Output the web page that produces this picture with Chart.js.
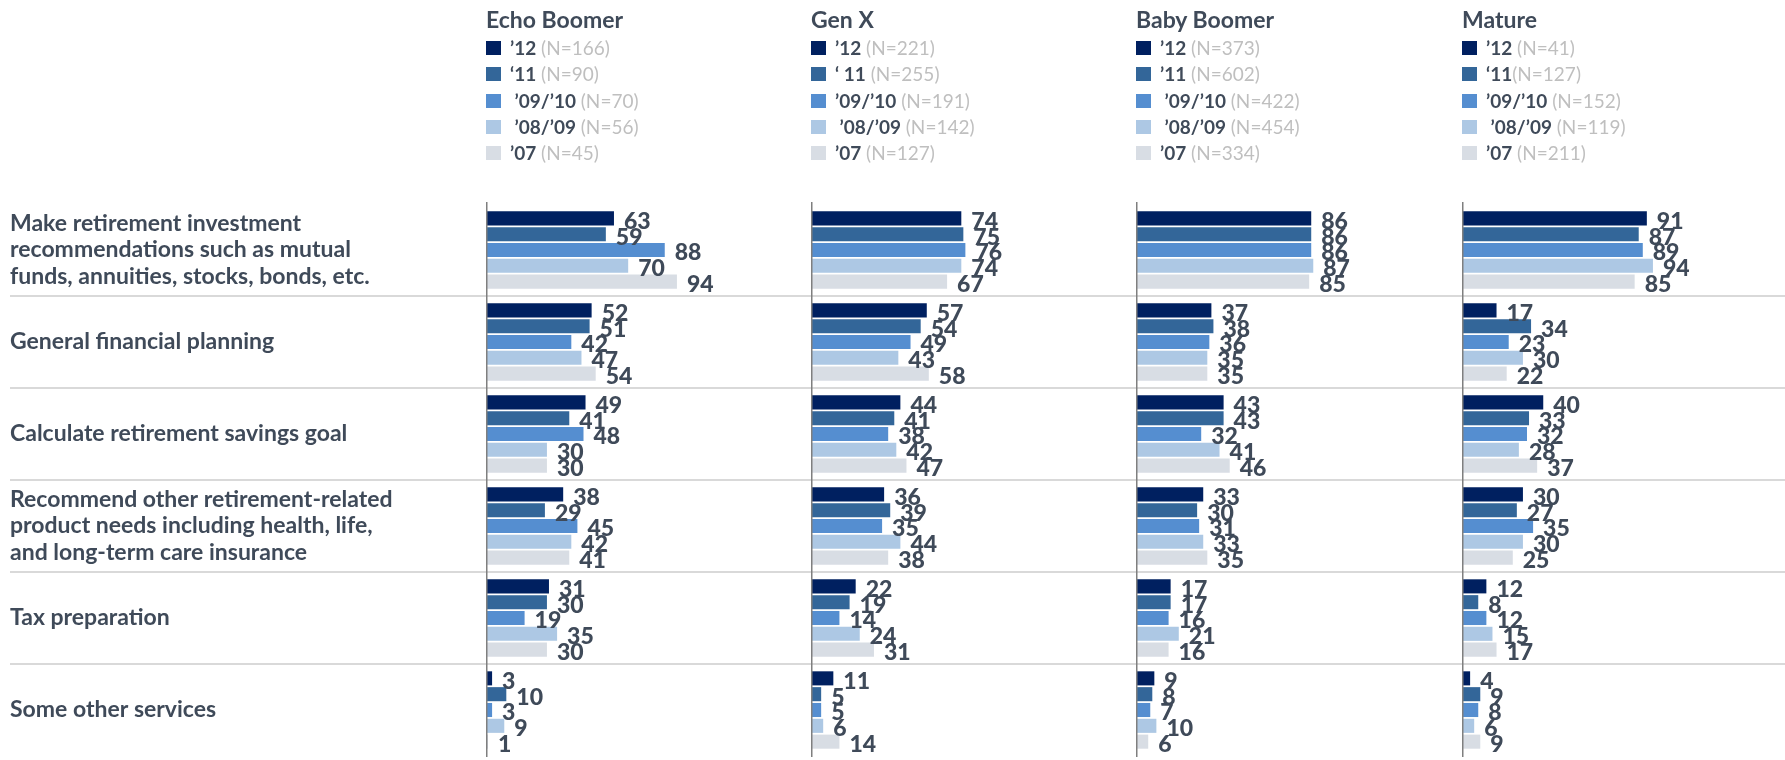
<!DOCTYPE html>
<html>
<head>
<meta charset="utf-8">
<script src="https://cdn.jsdelivr.net/npm/chart.js@4.4.1/dist/chart.umd.min.js"></script>
<style>
  body { margin: 0; width: 1785px; height: 760px; overflow: hidden; background: #fff; position: relative; font-family: Lato, sans-serif; }
  canvas { position: absolute; top: 0; }
  .head { position: absolute; top: 6px; color: #3f4a59; white-space: pre; }
  .head h2 { margin: 0; font: 700 23px/26px Lato; }
  .row { height: 26.3px; line-height: 26.3px; font-size: 19px; display: flex; align-items: center; }
  .row .sw { width: 15px; height: 14px; margin-right: 9px; flex: none; }
  .row b { font-weight: 700; color: #3f4a59; white-space: pre; }
  .row span { color: #bfbfbf; white-space: pre; }
</style>
</head>
<body>
<canvas id="c0" width="811" height="760" style="left:0px"></canvas>
<canvas id="c1" width="325" height="760" style="left:811px"></canvas>
<canvas id="c2" width="326" height="760" style="left:1136px"></canvas>
<canvas id="c3" width="325" height="760" style="left:1462px"></canvas>

<script>
// --- DATA ---
const categories = [
    ['Make retirement investment', 'recommendations such as mutual', 'funds, annuities, stocks, bonds, etc.'],
    'General financial planning',
    'Calculate retirement savings goal',
    ['Recommend other retirement-related', 'product needs including health, life,', 'and long-term care insurance'],
    'Tax preparation',
    'Some other services'
];
const seriesLabels = ['’12', '’11', '’09/’10', '’08/’09', '’07'];
const seriesColors = ['#002060', '#336699', '#558ed0', '#adc8e4', '#d8dde4'];

const panelTitles = ['Echo Boomer', 'Gen X', 'Baby Boomer', 'Mature'];

// legend texts as written in each panel
const echoKeys = ['’12', '‘11', ' ’09/’10', ' ’08/’09', '’07'];
const genxKeys = ['’12', '‘ 11', '’09/’10', ' ’08/’09', '’07'];
const boomerKeys = ['’12', '’11', ' ’09/’10', ' ’08/’09', '’07'];
const matureKeys = ['’12', '‘11', '’09/’10', ' ’08/’09', '’07'];

const echoN = [166, 90, 70, 56, 45];
const genxN = [221, 255, 191, 142, 127];
const boomerN = [373, 602, 422, 454, 334];
const matureN = [41, 127, 152, 119, 211];

// values: one row per series ('12, '11, '09/'10, '08/'09, '07), one column per category
const echoValues = [
    [63, 52, 49, 38, 31, 3],
    [59, 51, 41, 29, 30, 10],
    [88, 42, 48, 45, 19, 3],
    [70, 47, 30, 42, 35, 9],
    [94, 54, 30, 41, 30, 1]
];
const genxValues = [
    [74, 57, 44, 36, 22, 11],
    [75, 54, 41, 39, 19, 5],
    [76, 49, 38, 35, 14, 5],
    [74, 43, 42, 44, 24, 6],
    [67, 58, 47, 38, 31, 14]
];
const boomerValues = [
    [86, 37, 43, 33, 17, 9],
    [86, 38, 43, 30, 17, 8],
    [86, 36, 32, 31, 16, 7],
    [87, 35, 41, 33, 21, 10],
    [85, 35, 46, 35, 16, 6]
];
const matureValues = [
    [91, 17, 40, 30, 12, 4],
    [87, 34, 33, 27, 8, 9],
    [89, 23, 32, 35, 12, 8],
    [94, 30, 28, 30, 15, 6],
    [85, 22, 37, 25, 17, 9]
];

const panelKeys = [echoKeys, genxKeys, boomerKeys, matureKeys];
const panelN = [echoN, genxN, boomerN, matureN];
const panelValues = [echoValues, genxValues, boomerValues, matureValues];
const axisX = [486, 811, 1136, 1462];

const TEXT = '#3f4a59';

// --- HTML LEGENDS ---
panelTitles.forEach((title, p) => {
    const div = document.createElement('div');
    div.className = 'head';
    div.style.left = axisX[p] + 'px';
    let html = `<h2>${title}</h2><div style="margin-top:3px">`;
    panelKeys[p].forEach((k, i) => {
        const gap = (p === 3 && i === 1) ? '' : ' ';
        html += `<div class="row"><div class="sw" style="background:${seriesColors[i]}"></div>` +
                `<b>${k}</b><span>${gap}(N=${panelN[p][i]})</span></div>`;
    });
    div.innerHTML = html + '</div>';
    document.body.appendChild(div);
});

// --- PLUGINS ---
const separators = {
    id: 'separators',
    beforeDatasetsDraw(chart, args, opts) {
        const { ctx } = chart;
        const y = chart.scales.y;
        ctx.save();
        ctx.strokeStyle = '#d9d9d9';
        ctx.lineWidth = 2;
        for (let i = 1; i < categories.length; i++) {
            const py = Math.round((y.getPixelForValue(i - 1) + y.getPixelForValue(i)) / 2);
            ctx.beginPath();
            ctx.moveTo(opts.from || 0, py);
            ctx.lineTo(chart.width, py);
            ctx.stroke();
        }
        ctx.restore();
    },
    afterDatasetsDraw(chart) {
        const { ctx, chartArea } = chart;
        ctx.save();
        ctx.strokeStyle = '#7f7f7f';
        ctx.lineWidth = 1.5;
        ctx.beginPath();
        ctx.moveTo(chartArea.left + 0.75, chartArea.top - 2);
        ctx.lineTo(chartArea.left + 0.75, chartArea.bottom + 1);
        ctx.stroke();
        ctx.restore();
    }
};

const valueLabels = {
    id: 'valueLabels',
    afterDatasetsDraw(chart) {
        const { ctx } = chart;
        ctx.save();
        ctx.font = '900 23px Lato';
        ctx.fillStyle = TEXT;
        ctx.textBaseline = 'middle';
        chart.data.datasets.forEach((ds, d) => {
            chart.getDatasetMeta(d).data.forEach((bar, i) => {
                ctx.fillText(ds.data[i], bar.x + 10, bar.y + 3);
            });
        });
        ctx.restore();
    }
};

// --- CHARTS ---
function makeChart(p) {
    const first = p === 0;
    return new Chart(document.getElementById('c' + p), {
        type: 'bar',
        data: {
            labels: categories,
            datasets: seriesLabels.map((label, i) => ({
                label: label,
                data: panelValues[p][i],
                backgroundColor: seriesColors[i],
                borderWidth: 0,
                categoryPercentage: 0.86,
                barPercentage: 0.89
            }))
        },
        options: {
            indexAxis: 'y',
            responsive: false,
            animation: false,
            devicePixelRatio: 1,
            layout: { padding: { left: first ? 10 : 0, right: 0, top: 204, bottom: 4 } },
            scales: {
                x: { display: false, min: 0, max: 160 },
                y: {
                    display: first,
                    grid: { display: false },
                    border: { display: false },
                    ticks: {
                        autoSkip: false,
                        crossAlign: 'far',
                        padding: 0,
                        color: TEXT,
                        font: { family: 'Lato', weight: '700', size: 23, lineHeight: 1.17 }
                    },
                    afterFit: scale => {
                        if (first) scale.width = 476;
                        scale.paddingTop = 0;
                        scale.paddingBottom = 0;
                    }
                }
            },
            plugins: {
                legend: { display: false },
                tooltip: { enabled: false },
                separators: { from: first ? 10 : 0 }
            }
        },
        plugins: [separators, valueLabels]
    });
}

Promise.all([
    document.fonts.load('700 23px Lato'),
    document.fonts.load('900 23px Lato'),
    document.fonts.load('400 19px Lato')
]).catch(() => {}).then(() => {
    for (let p = 0; p < 4; p++) makeChart(p);
});
</script>
</body>
</html>
